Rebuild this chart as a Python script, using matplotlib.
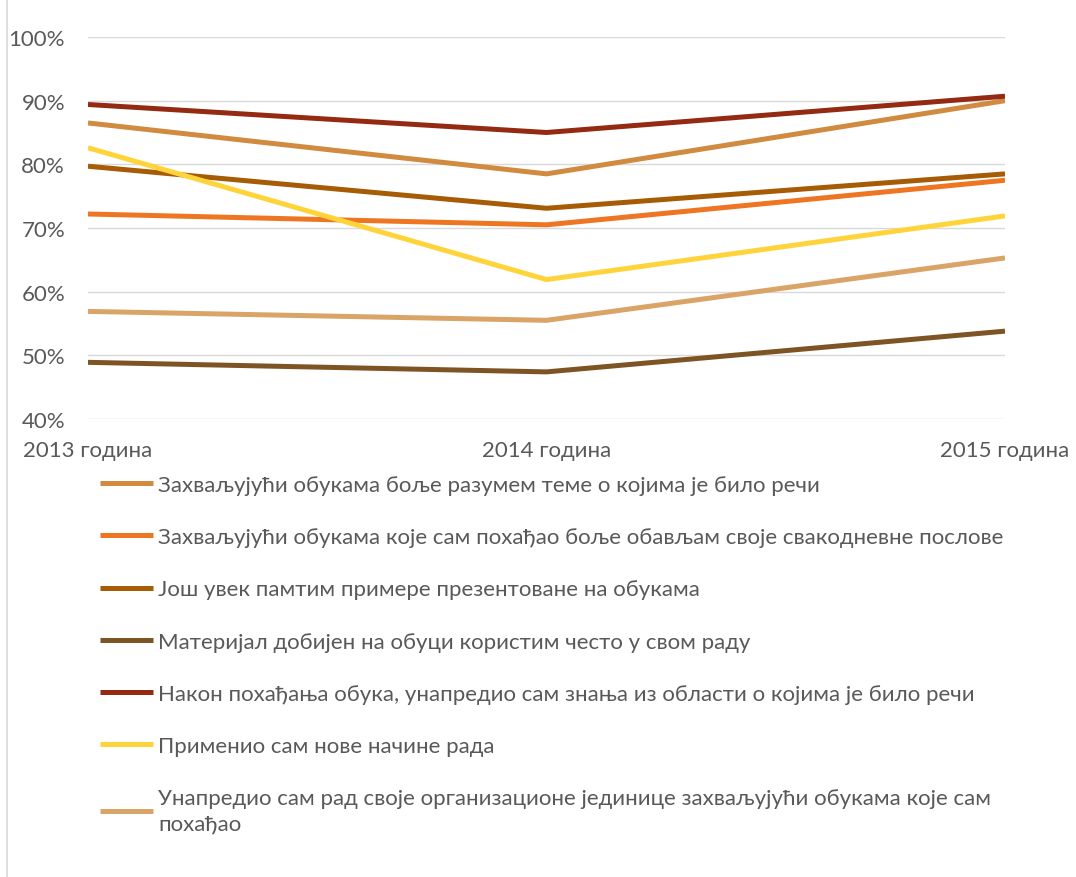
import matplotlib.pyplot as plt
import matplotlib.ticker as mticker

plt.rcParams['font.family'] = ['Lato', 'Noto Sans', 'DejaVu Sans']

years = ['2013 година', '2014 година', '2015 година']
labels = [
    'Захваљујући обукама боље разумем теме о којима је било речи',
    'Захваљујући обукама које сам похађао боље обављам своје свакодневне послове',
    'Још увек памтим примере презентоване на обукама',
    'Материјал добијен на обуци користим често у свом раду',
    'Након похађања обука, унапредио сам знања из области о којима је било речи',
    'Применио сам нове начине рада',
    'Унапредио сам рад своје организационе јединице захваљујући обукама које сам\nпохађао',
]
razumem = [86.5, 78.5, 90.0]
obavljam = [72.2, 70.5, 77.5]
pamtim = [79.7, 73.1, 78.5]
materijal = [48.9, 47.4, 53.8]
znanja = [89.4, 85.0, 90.7]
primenio = [82.6, 61.9, 71.9]
jedinica = [56.9, 55.5, 65.3]
series = [razumem, obavljam, pamtim, materijal, znanja, primenio, jedinica]
colors = ['#D18B41', '#EE7623', '#A65B05', '#7F5425', '#942A12', '#FFD43A', '#DAA466']

txt = '#595959'
fs = 16
fig = plt.figure(figsize=(10.76, 8.78), dpi=100)
ax = fig.add_axes([88/1076, 1-420/878, (1005-88)/1076, (420-38)/878])

handles = []
for vals, c, lab in zip(series, colors, labels):
    h, = ax.plot(range(len(years)), vals, color=c, lw=3.6, solid_capstyle='butt', label=lab)
    handles.append(h)

ax.set_xlim(0, 2)
ax.set_ylim(40, 100)
ax.set_yticks(range(40, 101, 10))
ax.yaxis.set_major_formatter(mticker.FuncFormatter(lambda v, p: f'{int(v)}%'))
ax.set_xticks(range(len(years)))
ax.set_xticklabels(years)
ax.grid(axis='y', color='#D9D9D9', lw=1)
ax.set_axisbelow(True)
for s in ax.spines.values():
    s.set_visible(False)
ax.tick_params(length=0, labelsize=fs, colors=txt)
ax.tick_params(axis='y', pad=16.5)
ax.tick_params(axis='x', pad=15)

leg = fig.legend(handles=handles, loc='upper left', bbox_to_anchor=(100/1076, 1-476/878),
                 frameon=False, fontsize=fs, labelcolor=txt, handlelength=2.4,
                 handletextpad=0.23, labelspacing=1.45, borderpad=0, borderaxespad=0)
for t in leg.get_texts():
    t.set_linespacing(1.35)

# left border of the chart box
fig.add_artist(plt.Line2D([7/1076, 7/1076], [0, 1], color='#D9D9D9', lw=1.2))

fig.savefig('out.png', dpi=100)
